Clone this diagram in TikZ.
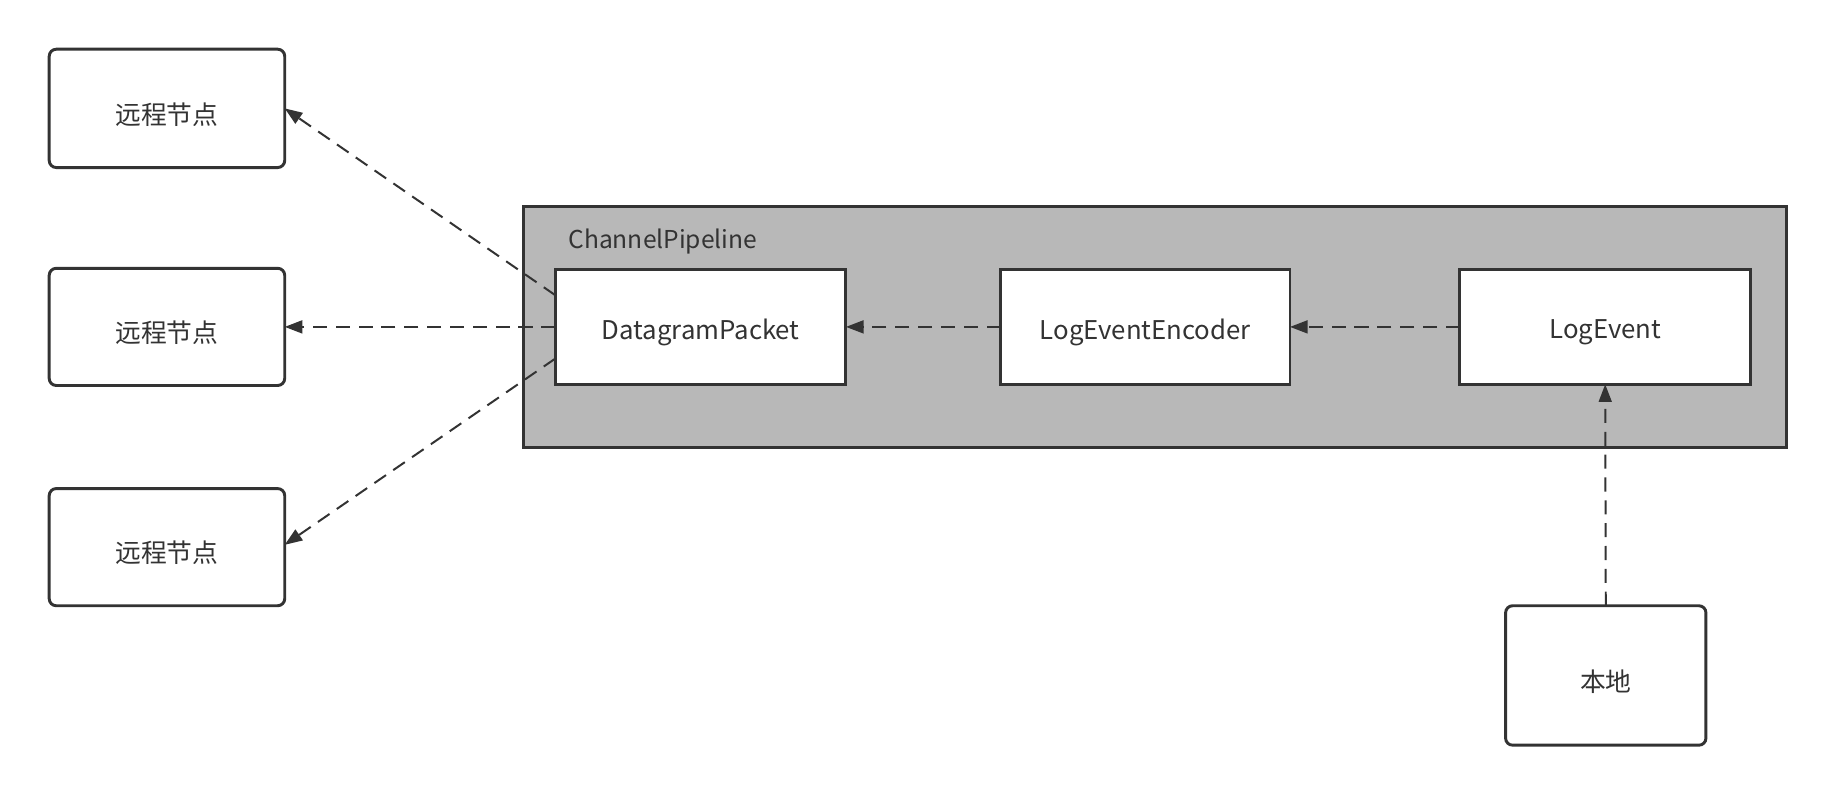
\documentclass[tikz,border=0pt]{standalone}
\usepackage{fontspec}
\setmainfont{Noto Sans CJK SC}
\usetikzlibrary{arrows.meta,calc}
\definecolor{ink}{HTML}{333333}
\definecolor{pipegrey}{HTML}{B8B8B8}
\newcommand\lowlbl[1]{\raisebox{-5pt}[\height][\depth]{#1}}
\tikzset{
  roundbox/.style={draw=ink,line width=2.5pt,rounded corners=6pt,fill=white,inner sep=0pt,outer sep=0pt,text=ink,font=\fontsize{22}{26}\selectfont},
  squarebox/.style={draw=ink,line width=2.5pt,fill=white,inner sep=0pt,outer sep=0pt,text=ink,font=\fontsize{22}{26}\selectfont},
  flow/.style={draw=ink,line width=1.7pt,dash pattern=on 12pt off 7.5pt,-{Triangle[length=15pt,width=11pt]}}
}
\begin{document}
\begin{tikzpicture}[x=1pt,y=-1pt]
\useasboundingbox (0,0) rectangle (1567,679.4);
\node[draw=ink,line width=2.5pt,fill=pipegrey,minimum width=1078pt,minimum height=206pt,inner sep=0pt,outer sep=0pt] (pipe) at (986,279) {};
\node[anchor=west,text=ink,font=\fontsize{21}{25}\selectfont,inner sep=0pt] (pipelabel) at (485,206) {ChannelPipeline};
\node[roundbox,minimum width=201pt,minimum height=101pt] (r1) at (142.5,92.5) {\lowlbl{远程节点}};
\node[roundbox,minimum width=201pt,minimum height=100pt] (r2) at (142.5,279) {\lowlbl{远程节点}};
\node[roundbox,minimum width=201pt,minimum height=100pt] (r3) at (142.5,467) {\lowlbl{远程节点}};
\node[squarebox,minimum width=248pt,minimum height=98pt] (dp) at (598,279) {\lowlbl{DatagramPacket}};
\node[squarebox,minimum width=247pt,minimum height=98pt] (enc) at (977.5,279) {\lowlbl{LogEventEncoder}};
\node[squarebox,minimum width=248pt,minimum height=98pt] (le) at (1370,279) {\lowlbl{LogEvent}};
\node[roundbox,minimum width=171pt,minimum height=119pt] (local) at (1370.5,576.5) {\lowlbl{本地}};
\coordinate (dpup) at ($(dp.north west)+(0,22)$);
\coordinate (dpdown) at ($(dp.south west)+(0,-22)$);
\draw[flow] (le.west) -- (enc.east);
\draw[flow] (enc.west) -- (dp.east);
\draw[flow] (dp.west) -- (r2.east);
\draw[flow] (dpup) -- (r1.east);
\draw[flow] (dpdown) -- ($(r3.east)+(0,-2)$);
\draw[flow] (local.north) -- (le.south);
\end{tikzpicture}
\end{document}
